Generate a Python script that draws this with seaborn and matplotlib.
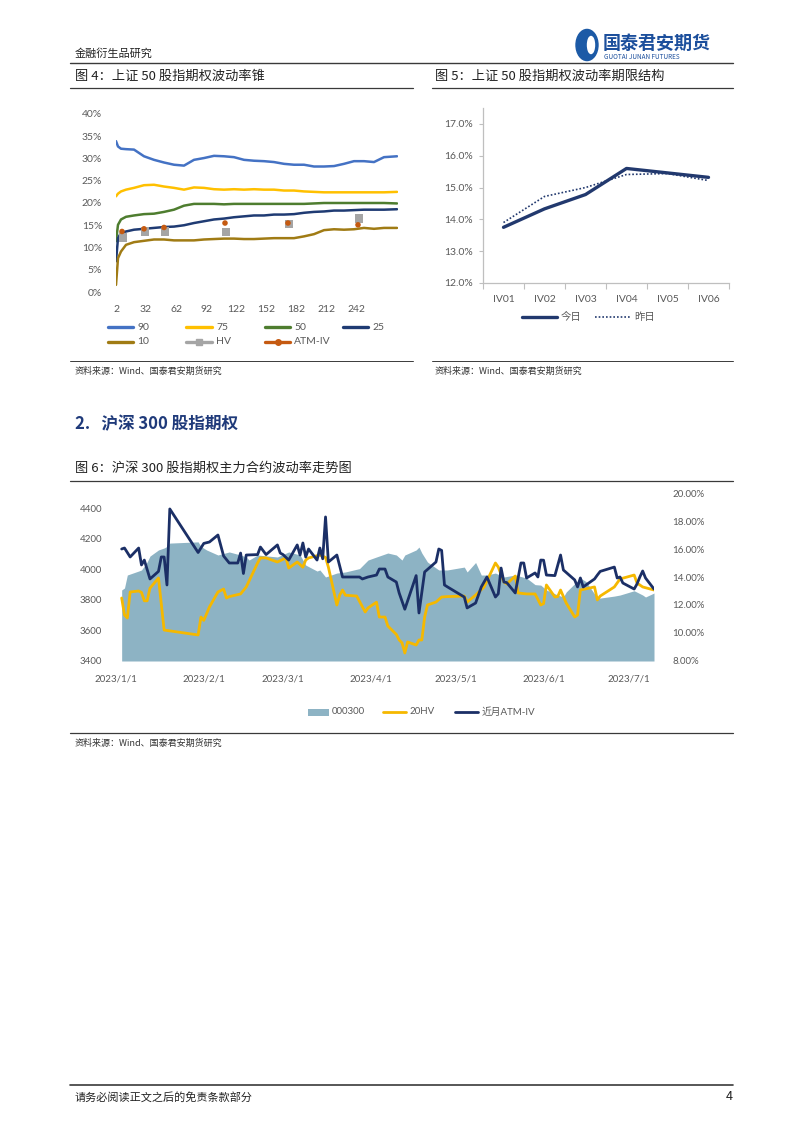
import pandas as pd
import matplotlib
matplotlib.use('Agg')
import matplotlib.pyplot as plt
import seaborn as sns
from matplotlib.lines import Line2D
from matplotlib.patches import Circle, Ellipse, Rectangle

sns.set_theme(style='white')
plt.rcParams['font.family'] = ['Noto Sans CJK SC', 'DejaVu Sans']
NUM_FONT = ['Lato', 'Noto Sans CJK SC', 'DejaVu Sans']

# ---------------- data: 图4 波动率锥 ----------------
cone_x = [2, 4, 7, 12, 20, 30, 40, 50, 60, 70, 80, 90, 100, 110, 120, 130,
          140, 150, 160, 170, 180, 190, 200, 210, 220, 230, 240, 250, 260, 270, 283]
cone_90 = [33.9, 32.7, 32.2, 32.1, 32.0, 30.5, 29.7, 29.1, 28.6, 28.4, 29.7, 30.1, 30.6, 30.5, 30.3, 29.7,
           29.5, 29.4, 29.2, 28.8, 28.6, 28.6, 28.2, 28.2, 28.3, 28.8, 29.4, 29.4, 29.2, 30.3, 30.5]
cone_75 = [21.5, 22.1, 22.6, 23.0, 23.4, 24.0, 24.1, 23.7, 23.4, 23.0, 23.5, 23.4, 23.1, 23.0, 23.1, 23.0,
           23.1, 23.0, 23.0, 22.8, 22.8, 22.6, 22.5, 22.4, 22.4, 22.4, 22.4, 22.4, 22.4, 22.4, 22.5]
cone_50 = [11.4, 15.1, 16.3, 16.9, 17.2, 17.5, 17.6, 18.0, 18.5, 19.4, 19.8, 19.8, 19.8, 19.7, 19.8, 19.8,
           19.8, 19.8, 19.8, 19.8, 19.8, 19.8, 19.9, 20.0, 20.0, 20.0, 20.0, 20.0, 20.0, 20.0, 19.9]
cone_25 = [6.9, 12.1, 13.3, 13.6, 14.0, 14.2, 14.4, 14.6, 14.7, 15.0, 15.5, 15.9, 16.3, 16.5, 16.8, 17.0,
           17.2, 17.2, 17.4, 17.4, 17.5, 17.8, 18.0, 18.1, 18.3, 18.3, 18.4, 18.5, 18.5, 18.5, 18.6]
cone_10 = [1.6, 7.6, 9.1, 10.6, 11.2, 11.5, 11.8, 11.8, 11.6, 11.6, 11.6, 11.8, 11.9, 12.0, 12.0, 11.9,
           11.9, 12.0, 12.1, 12.1, 12.1, 12.5, 13.0, 13.9, 14.1, 14.0, 14.1, 14.4, 14.2, 14.4, 14.4]
hv_days = [9, 31, 51, 112, 175, 245]
hv_level = [12.3, 13.6, 13.6, 13.5, 15.3, 16.5]
atm_days = [8, 30, 50, 111, 174, 244]
atm_level = [13.6, 14.2, 14.5, 15.5, 15.5, 15.1]

# ---------------- data: 图5 期限结构 ----------------
tenors = ['IV01', 'IV02', 'IV03', 'IV04', 'IV05', 'IV06']
term_today = [13.75, 14.33, 14.78, 15.60, 15.46, 15.32]
term_yesterday = [13.90, 14.72, 15.00, 15.41, 15.44, 15.22]

# ---------------- data: 图6 沪深300 ----------------
idx_dates = ['01-03', '01-04', '01-05', '01-09', '01-10', '01-12', '01-13', '01-16', '01-18', '01-19',
             '01-20', '01-30', '01-31', '02-02', '02-06', '02-10', '02-14', '02-16', '02-17', '02-20',
             '02-27', '03-03', '03-07', '03-09', '03-13', '03-14', '03-16', '03-20', '03-23', '03-28',
             '03-31', '04-03', '04-07', '04-10', '04-12', '04-13', '04-17', '04-18', '04-19', '04-21',
             '04-24', '04-25', '04-28', '05-04', '05-05', '05-08', '05-10', '05-12', '05-15', '05-18',
             '05-22', '05-26', '05-29', '05-31', '06-02', '06-06', '06-08', '06-09', '06-14', '06-16',
             '06-20', '06-21', '06-26', '06-28', '07-03', '07-06', '07-07', '07-10']
idx_vals = [3865, 3878, 3963, 3989, 3996, 4048, 4087, 4127, 4140, 4150,
            4172, 4180, 4150, 4127, 4094, 4114, 4094, 4081, 4061, 4094,
            4081, 4114, 4094, 4028, 3989, 3996, 3950, 3976, 3983, 4005,
            4061, 4081, 4107, 4094, 4061, 4094, 4127, 4146, 4107, 4048,
            4009, 3996, 3996, 4015, 3983, 4045, 3963, 3963, 3976, 3950,
            3963, 3943, 3900, 3897, 3865, 3832, 3819, 3852, 3943, 3920,
            3812, 3812, 3825, 3832, 3860, 3832, 3819, 3845]

hv20_dates = ['01-03', '01-04', '01-05', '01-06', '01-09', '01-10', '01-11', '01-12', '01-13', '01-16',
              '01-18', '01-30', '01-31', '02-01', '02-03', '02-06', '02-08', '02-09', '02-10', '02-14',
              '02-16', '02-20', '02-21', '02-23', '02-27', '03-02', '03-03', '03-06', '03-08', '03-09',
              '03-10', '03-14', '03-16', '03-17', '03-20', '03-21', '03-22', '03-23', '03-27', '03-30',
              '03-31', '04-03', '04-04', '04-06', '04-07', '04-10', '04-11', '04-12', '04-13', '04-14',
              '04-17', '04-18', '04-19', '04-20', '04-21', '04-24', '04-26', '04-28', '05-04', '05-05',
              '05-08', '05-11', '05-15', '05-16', '05-18', '05-19', '05-22', '05-23', '05-26', '05-29',
              '05-31', '06-01', '06-02', '06-05', '06-06', '06-07', '06-09', '06-12', '06-13', '06-14',
              '06-19', '06-20', '06-21', '06-26', '06-28', '07-03', '07-04', '07-06', '07-10']
hv20_vals = [12.5, 11.29, 11.07, 12.93, 13.0, 12.9, 12.3, 12.3, 13.2, 13.93,
             10.21, 9.86, 11.14, 10.9, 11.86, 12.93, 13.14, 12.5, 12.6, 12.79,
             13.29, 15.0, 15.36, 15.36, 15.07, 15.36, 14.64, 15.07, 14.7, 15.21,
             15.36, 15.57, 15.4, 14.71, 12.0, 12.71, 13.07, 12.7, 12.64, 11.5,
             11.79, 12.2, 11.14, 11.14, 10.5, 9.9, 9.5, 9.3, 8.57, 9.36,
             9.14, 9.5, 9.5, 11.14, 12.0, 12.21, 12.57, 12.6, 12.64, 12.21,
             12.71, 13.29, 15.0, 14.71, 13.64, 13.5, 14.07, 12.86, 12.79, 12.79,
             12.0, 12.1, 13.43, 12.57, 12.6, 13.07, 12.14, 11.14, 11.29, 13.07,
             13.29, 12.36, 12.64, 13.29, 13.86, 14.14, 13.57, 13.29, 13.07]

iv_dates = ['01-03', '01-04', '01-06', '01-09', '01-10', '01-11', '01-13', '01-16', '01-17', '01-18',
            '01-19', '01-20', '01-30', '02-01', '02-03', '02-06', '02-08', '02-10', '02-13', '02-14',
            '02-15', '02-16', '02-20', '02-21', '02-23', '02-27', '02-28', '03-01', '03-03', '03-06',
            '03-07', '03-08', '03-09', '03-10', '03-13', '03-14', '03-15', '03-16', '03-17', '03-20',
            '03-21', '03-22', '03-24', '03-28', '03-29', '03-31', '04-03', '04-04', '04-06', '04-07',
            '04-10', '04-11', '04-13', '04-17', '04-18', '04-20', '04-24', '04-25', '04-26', '04-27',
            '04-28', '05-04', '05-05', '05-08', '05-10', '05-12', '05-15', '05-16', '05-17', '05-18',
            '05-19', '05-22', '05-24', '05-25', '05-26', '05-29', '05-30', '05-31', '06-01', '06-02',
            '06-05', '06-07', '06-08', '06-12', '06-13', '06-14', '06-15', '06-19', '06-20', '06-21',
            '06-26', '06-27', '06-28', '06-29', '07-03', '07-04', '07-05', '07-06', '07-07', '07-10']
iv_vals = [16.0, 16.07, 15.43, 16.07, 14.86, 15.21, 13.86, 14.4, 15.43, 15.43,
           13.43, 18.86, 15.75, 16.4, 16.5, 17.0, 15.5, 15.0, 15.0, 15.71,
           14.25, 15.57, 15.6, 16.14, 15.6, 16.29, 15.71, 15.6, 15.21, 16.29,
           15.57, 16.43, 15.43, 16.0, 15.21, 16.07, 15.3, 18.29, 15.07, 15.57,
           14.79, 14.0, 14.0, 14.0, 13.86, 14.0, 14.14, 14.57, 14.57, 14.0,
           13.64, 12.86, 11.7, 14.1, 11.43, 14.36, 15.07, 16.0, 15.9, 13.43,
           13.3, 12.57, 11.79, 12.14, 13.29, 14.0, 12.57, 12.8, 14.64, 13.64,
           13.6, 12.86, 15.0, 15.0, 13.93, 14.29, 14.0, 15.21, 15.2, 14.14,
           14.1, 15.57, 14.5, 13.79, 13.29, 13.93, 13.29, 13.86, 14.14, 14.4,
           14.71, 13.93, 14.0, 13.57, 13.14, 13.5, 14.0, 14.43, 13.93, 13.14]

month_ticks = ['2023-01-01', '2023-02-01', '2023-03-01', '2023-04-01', '2023-05-01', '2023-06-01', '2023-07-01']

# ---------------- page helpers ----------------
W, H = 802, 1134
fig = plt.figure(figsize=(W / 100, H / 100), dpi=100)
fig.patch.set_facecolor('white')


def fx(x):
    return x / W


def fy(y):
    return 1 - y / H


def axes_px(l, t, r, b):
    return fig.add_axes([fx(l), fy(b), (r - l) / W, (b - t) / H])


def hline(x0, x1, y, color='#3a3a3a', lw=0.9, ls='-'):
    fig.add_artist(Line2D([fx(x0), fx(x1)], [fy(y), fy(y)], transform=fig.transFigure,
                          color=color, lw=lw, ls=ls))


def label(x, y, s, size=9, ha='left', **kw):
    fig.text(fx(x), fy(y), s, fontsize=size, va='center', ha=ha, **kw)


def legend_line(x0, x1, y, color, text, lw=2.4, ls='-', marker=None, ms=5, size=7.5):
    hline(x0, x1, y, color=color, lw=lw, ls=ls)
    if marker:
        fig.add_artist(Line2D([fx((x0 + x1) / 2)], [fy(y)], transform=fig.transFigure,
                              marker=marker, ms=ms, color=color, lw=0))
    label(x1 + 4, y, text, size=size, color='#595959', family=NUM_FONT)


# ---------------- header / footer ----------------
label(75, 53, '金融衍生品研究', size=8, color='#222222')
fig.add_artist(Circle((fx(587), fy(45)), 11 / W, transform=fig.transFigure, color='#1c5aa6'))
fig.add_artist(Ellipse((fx(591), fy(45)), 7 / W, 17 / H, transform=fig.transFigure, color='white'))
label(603, 43, '国泰君安期货', size=13, color='#1c4f9c', weight='bold')
label(604, 57, 'GUOTAI JUNAN FUTURES', size=4.6, color='#1c4f9c')
hline(70, 733, 63, lw=1.0)

hline(70, 733, 1085, lw=1.2)
label(75, 1097, '请务必阅读正文之后的免责条款部分', size=8, color='#222222')
label(733, 1097, '4', size=9, ha='right', color='#222222')

# ---------------- captions ----------------
label(75, 76, '图 4：上证 50 股指期权波动率锥', size=9.5, color='#222222')
hline(70, 413, 88)
label(435, 76, '图 5：上证 50 股指期权波动率期限结构', size=9.5, color='#222222')
hline(432, 733, 88)
hline(70, 413, 361, lw=0.7)
hline(432, 733, 361, lw=0.7)
label(75, 371, '资料来源：Wind、国泰君安期货研究', size=6.5, color='#333333')
label(435, 371, '资料来源：Wind、国泰君安期货研究', size=6.5, color='#333333')

label(75, 424, '2.   沪深 300 股指期权', size=12, color='#1f3a7a', weight='bold')
label(75, 468, '图 6：沪深 300 股指期权主力合约波动率走势图', size=9.5, color='#222222')
hline(70, 733, 481)
hline(70, 733, 733)
label(75, 743, '资料来源：Wind、国泰君安期货研究', size=6.5, color='#333333')

TICK_C = '#595959'

# ---------------- 图4 ----------------
ax1 = axes_px(116, 114, 398, 292)
cone_series = [(cone_90, '#4472C4'), (cone_75, '#FFC000'), (cone_50, '#4E7D2F'),
               (cone_25, '#1F3B73'), (cone_10, '#A07B14')]
for vals, c in cone_series:
    sns.lineplot(x=cone_x, y=vals, ax=ax1, color=c, lw=1.8, legend=False)
sns.scatterplot(x=hv_days, y=hv_level, ax=ax1, marker='s', s=40, color='#A5A5A5',
                edgecolor='none', legend=False, zorder=5)
sns.scatterplot(x=atm_days, y=atm_level, ax=ax1, marker='o', s=16, color='#C55A11',
                edgecolor='none', legend=False, zorder=6)
ax1.set_xlim(2, 284)
ax1.set_ylim(0, 40)
ax1.set_yticks(range(0, 41, 5))
ax1.set_yticklabels([f'{v}%' for v in range(0, 41, 5)])
ax1.set_xticks(range(2, 243, 30))
ax1.set_xticklabels([str(v) for v in range(2, 243, 30)])
ax1.set_xlabel('')
ax1.set_ylabel('')
sns.despine(ax=ax1, left=True, bottom=True)
ax1.tick_params(axis='y', length=0, labelsize=7.5, labelcolor=TICK_C, pad=10)
ax1.tick_params(axis='x', length=0, labelsize=7.5, labelcolor=TICK_C, pad=9)
for t in ax1.get_xticklabels() + ax1.get_yticklabels():
    t.set_family(NUM_FONT)

legend_line(108, 133, 327, '#4472C4', '90')
legend_line(186, 212, 327, '#FFC000', '75')
legend_line(265, 290, 327, '#4E7D2F', '50')
legend_line(343, 368, 327, '#1F3B73', '25')
legend_line(108, 133, 342, '#A07B14', '10')
legend_line(186, 212, 342, '#A5A5A5', 'HV', marker='s', ms=5)
legend_line(265, 290, 342, '#C55A11', 'ATM-IV', marker='o', ms=4)

# ---------------- 图5 ----------------
ax2 = axes_px(483, 108, 729, 283)
term = pd.DataFrame({'tenor': tenors, 'today': term_today, 'yesterday': term_yesterday})
sns.lineplot(data=term, x='tenor', y='today', ax=ax2, color='#22396E', lw=2.4, sort=False)
sns.lineplot(data=term, x='tenor', y='yesterday', ax=ax2, color='#22396E', lw=1.2,
             ls=(0, (1, 1.2)), sort=False)
ax2.set_xlim(-0.5, 5.5)
ax2.set_ylim(12, 17.5)
ax2.set_yticks([12, 13, 14, 15, 16, 17])
ax2.set_yticklabels([f'{v:.1f}%' for v in [12, 13, 14, 15, 16, 17]])
ax2.set_xticks(range(6))
ax2.set_xticks([i - 0.5 for i in range(7)], minor=True)
ax2.set_xlabel('')
ax2.set_ylabel('')
sns.despine(ax=ax2)
for s in ['left', 'bottom']:
    ax2.spines[s].set_color('#BFBFBF')
    ax2.spines[s].set_linewidth(0.9)
ax2.tick_params(axis='y', left=True, length=3, width=0.8, color='#BFBFBF',
                labelsize=7.5, labelcolor=TICK_C, pad=4)
ax2.tick_params(axis='x', which='major', length=0, labelsize=7.5, labelcolor=TICK_C, pad=9)
ax2.tick_params(axis='x', which='minor', bottom=True, length=4, width=0.8, color='#BFBFBF')
for t in ax2.get_xticklabels() + ax2.get_yticklabels():
    t.set_family(NUM_FONT)

legend_line(522, 557, 317, '#22396E', '今日', lw=2.4)
legend_line(595, 630, 317, '#22396E', '昨日', lw=1.2, ls=(0, (1, 1.2)))

# ---------------- 图6 ----------------
ax3 = axes_px(116, 493, 654, 661)
idx = pd.DataFrame({'date': pd.to_datetime(['2023-' + d for d in idx_dates]), 'val': idx_vals})
hv20 = pd.DataFrame({'date': pd.to_datetime(['2023-' + d for d in hv20_dates]), 'val': hv20_vals})
iv = pd.DataFrame({'date': pd.to_datetime(['2023-' + d for d in iv_dates]), 'val': iv_vals})

ax3.fill_between(idx['date'], 3400, idx['val'], color='#8DB3C4', lw=0)
ax3.set_ylim(3400, 4500)
ax3.set_yticks(range(3400, 4401, 200))
ax3.set_yticklabels([str(v) for v in range(3400, 4401, 200)])
ticks = pd.to_datetime(month_ticks)
ax3.set_xticks(ticks)
ax3.set_xticklabels([f'{d.year}/{d.month}/{d.day}' for d in ticks])
ax3.set_xlim(pd.Timestamp('2023-01-01'), pd.Timestamp('2023-07-10'))

ax3r = ax3.twinx()
sns.lineplot(data=hv20, x='date', y='val', ax=ax3r, color='#F5B800', lw=2.0)
sns.lineplot(data=iv, x='date', y='val', ax=ax3r, color='#1B2F66', lw=2.0)
ax3r.set_ylim(8, 20)
ax3r.set_yticks(range(8, 21, 2))
ax3r.set_yticklabels([f'{v:.2f}%' for v in range(8, 21, 2)])
ax3r.set_xlim(pd.Timestamp('2023-01-01'), pd.Timestamp('2023-07-10'))
for a in (ax3, ax3r):
    a.set_xlabel('')
    a.set_ylabel('')
    for s in a.spines.values():
        s.set_visible(False)
    a.grid(False)
ax3.tick_params(axis='y', length=0, labelsize=7, labelcolor=TICK_C, pad=10)
ax3.tick_params(axis='x', length=0, labelsize=7, labelcolor=TICK_C, pad=10)
ax3r.tick_params(axis='y', length=0, labelsize=7, labelcolor=TICK_C, pad=13)
for t in ax3.get_xticklabels() + ax3.get_yticklabels() + ax3r.get_yticklabels():
    t.set_family(NUM_FONT)

fig.add_artist(Rectangle((fx(308), fy(716)), 21 / W, 7 / H, transform=fig.transFigure,
                         color='#8DB3C4', lw=0))
label(332, 712, '000300', size=7, color=TICK_C, family=NUM_FONT)
legend_line(383, 406, 712, '#F5B800', '20HV', lw=2.0, size=7)
legend_line(455, 478, 712, '#1B2F66', '近月ATM-IV', lw=2.0, size=7)

fig.savefig('out.png', dpi=100)
